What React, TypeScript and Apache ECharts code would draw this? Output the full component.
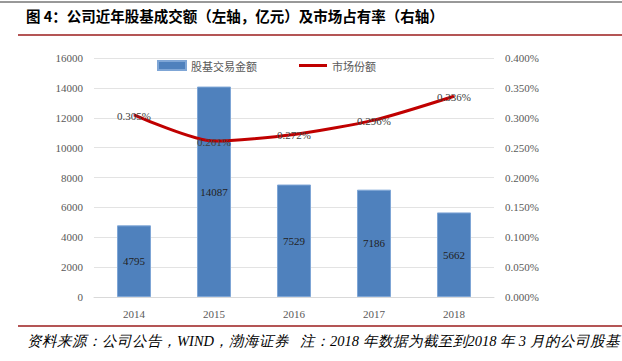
import React, { useEffect, useRef } from "react";
import * as echarts from "echarts";

const categories = ["2014", "2015", "2016", "2017", "2018"];
const turnover = [4795, 14087, 7529, 7186, 5662];
const share = [0.305, 0.261, 0.272, 0.296, 0.336];
const leftTicks = { min: 0, max: 16000, interval: 2000 };
const rightTicks = { min: 0, max: 0.4, interval: 0.05 };
const titleText = "图 4：公司近年股基成交额（左轴，亿元）及市场占有率（右轴）";
const noteText = "资料来源：公司公告，WIND，渤海证券   注：2018 年数据为截至到2018 年 3 月的公司股基";

const serif = "Liberation Serif";

export default function App() {
  const ref = useRef<HTMLDivElement>(null);
  useEffect(() => {
    const chart = echarts.init(ref.current!, null, { renderer: "svg" });
    chart.setOption({
      animation: false,
      backgroundColor: "#ffffff",
      grid: { left: 94, right: 128, top: 58, bottom: 64 },
      legend: {
        top: 55,
        left: 152,
        itemGap: 42,
        itemWidth: 28,
        itemHeight: 9,
        textStyle: { fontFamily: "Noto Sans CJK SC", fontSize: 11, color: "#595959" },
        data: [
          { name: "股基交易金额", icon: "rect" },
          { name: "市场份额", icon: "path://M0,0 L28,0 L28,3 L0,3 Z" },
        ],
      },
      xAxis: {
        type: "category",
        data: categories,
        axisLine: { lineStyle: { color: "#d9d9d9", width: 1 } },
        axisTick: { show: false },
        axisLabel: { fontFamily: serif, fontSize: 11, color: "#595959", margin: 11 },
      },
      yAxis: [
        {
          type: "value",
          ...leftTicks,
          axisLine: { show: false },
          axisTick: { show: false },
          splitLine: { lineStyle: { color: "#e3e3e3", width: 1 } },
          axisLabel: {
            fontFamily: serif,
            fontSize: 11,
            color: "#595959",
            margin: 11,
            formatter: (v: number) => String(v),
          },
        },
        {
          type: "value",
          ...rightTicks,
          axisLine: { show: false },
          axisTick: { show: false },
          splitLine: { show: false },
          axisLabel: {
            fontFamily: serif,
            fontSize: 11,
            color: "#595959",
            margin: 11,
            formatter: (v: number) => v.toFixed(3) + "%",
          },
        },
      ],
      series: [
        {
          name: "股基交易金额",
          type: "bar",
          data: turnover,
          barWidth: 34,
          itemStyle: { color: "#4F81BD", borderColor: "#7FA6D6", borderWidth: 1 },
          label: {
            show: true,
            position: "inside",
            fontFamily: serif,
            fontSize: 11,
            color: "#222222",
          },
        },
        {
          name: "市场份额",
          type: "line",
          yAxisIndex: 1,
          data: share,
          smooth: 0.25,
          symbol: "circle",
          symbolSize: 1,
          showSymbol: true,
          lineStyle: { color: "#C00000", width: 3 },
          itemStyle: { color: "#C00000" },
          label: {
            show: true,
            position: "top",
            distance: -7,
            fontFamily: serif,
            fontSize: 11,
            color: "#404040",
            formatter: (p: any) => p.value.toFixed(3) + "%",
          },
        },
      ],
      graphic: [
        { type: "line", shape: { x1: 0, y1: 2, x2: 622, y2: 2 }, style: { stroke: "#333333", lineWidth: 1 } },
        {
          type: "text",
          left: 26,
          top: 8,
          style: {
            text: titleText,
            fontFamily: "Noto Sans CJK SC",
            fontWeight: "bold",
            fontSize: 14.5,
            fill: "#000000",
          },
        },
        { type: "line", shape: { x1: 18, y1: 35, x2: 622, y2: 35 }, style: { stroke: "#9B1C1C", lineWidth: 1.5 } },
        { type: "line", shape: { x1: 18, y1: 326, x2: 622, y2: 326 }, style: { stroke: "#9B1C1C", lineWidth: 1.5 } },
        {
          type: "text",
          left: 27,
          top: 333,
          style: {
            text: noteText,
            fontFamily: serif,
            fontStyle: "italic",
            fontSize: 14.5,
            fill: "#000000",
          },
        },
      ],
    });
    return () => chart.dispose();
  }, []);
  return (
    <div
      ref={ref}
      style={{ position: "fixed", left: 0, top: 0, width: 622, height: 361 }}
    />
  );
}
